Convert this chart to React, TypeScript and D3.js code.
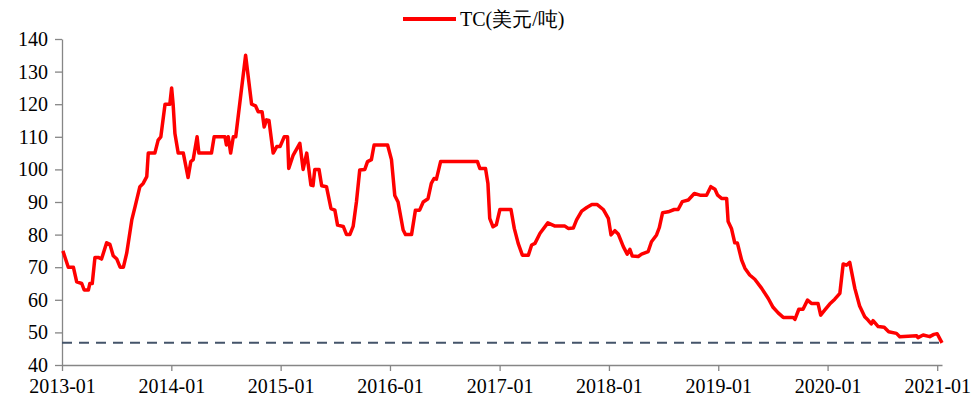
import React, { useRef, useEffect } from 'react';
import * as d3 from 'd3';

// weekly TC quotes
const dates = [
  '2013-01-04', '2013-01-22', '2013-02-08', '2013-02-19', '2013-03-08', '2013-03-16', '2013-03-30', '2013-04-04',
  '2013-04-12', '2013-04-21', '2013-05-02', '2013-05-13', '2013-05-30', '2013-06-10', '2013-06-21', '2013-07-03',
  '2013-07-14', '2013-07-25', '2013-08-05', '2013-08-22', '2013-09-02', '2013-09-18', '2013-09-29', '2013-10-11',
  '2013-10-16', '2013-11-07', '2013-11-18', '2013-11-27', '2013-12-11', '2013-12-27', '2014-01-02', '2014-01-07',
  '2014-01-13', '2014-01-24', '2014-02-10', '2014-02-26', '2014-03-07', '2014-03-15', '2014-03-28', '2014-04-03',
  '2014-05-15', '2014-05-24', '2014-06-29', '2014-07-04', '2014-07-10', '2014-07-18', '2014-07-27', '2014-08-04',
  '2014-09-06', '2014-09-26', '2014-10-09', '2014-10-18', '2014-10-31', '2014-11-07', '2014-11-15', '2014-11-23',
  '2014-12-07', '2014-12-19', '2014-12-30', '2015-01-13', '2015-01-24', '2015-01-28', '2015-02-12', '2015-03-06',
  '2015-03-17', '2015-03-29', '2015-04-12', '2015-04-19', '2015-04-25', '2015-05-09', '2015-05-18', '2015-06-03',
  '2015-06-18', '2015-07-01', '2015-07-10', '2015-07-29', '2015-08-09', '2015-08-20', '2015-08-31', '2015-09-11',
  '2015-09-22', '2015-10-09', '2015-10-18', '2015-10-31', '2015-11-09', '2015-12-24', '2016-01-06', '2016-01-17',
  '2016-01-28', '2016-02-14', '2016-02-22', '2016-03-13', '2016-03-26', '2016-04-09', '2016-04-21', '2016-05-07',
  '2016-05-18', '2016-05-27', '2016-06-04', '2016-06-18', '2016-10-19', '2016-10-27', '2016-11-15', '2016-11-23',
  '2016-11-29', '2016-12-10', '2016-12-21', '2017-01-02', '2017-02-08', '2017-02-19', '2017-03-04', '2017-03-18',
  '2017-04-07', '2017-04-18', '2017-04-29', '2017-05-16', '2017-06-11', '2017-07-05', '2017-08-07', '2017-08-18',
  '2017-09-04', '2017-09-15', '2017-10-02', '2017-10-19', '2017-11-05', '2017-11-23', '2017-12-13', '2017-12-30',
  '2018-01-08', '2018-01-21', '2018-02-01', '2018-02-18', '2018-03-03', '2018-03-12', '2018-03-20', '2018-04-09',
  '2018-04-20', '2018-05-12', '2018-05-23', '2018-06-09', '2018-06-18', '2018-06-29', '2018-07-18', '2018-08-07',
  '2018-08-20', '2018-09-03', '2018-09-23', '2018-10-13', '2018-11-01', '2018-11-23', '2018-12-07', '2018-12-21',
  '2018-12-30', '2019-01-12', '2019-01-29', '2019-02-03', '2019-02-14', '2019-02-25', '2019-03-06', '2019-03-20',
  '2019-03-31', '2019-04-16', '2019-05-03', '2019-05-26', '2019-06-17', '2019-07-03', '2019-07-20', '2019-08-06',
  '2019-09-08', '2019-09-14', '2019-09-27', '2019-10-11', '2019-10-26', '2019-11-08', '2019-11-30', '2019-12-09',
  '2019-12-23', '2020-01-08', '2020-01-25', '2020-02-11', '2020-02-22', '2020-03-04', '2020-03-15', '2020-04-01',
  '2020-04-17', '2020-05-04', '2020-05-15', '2020-05-26', '2020-06-01', '2020-06-18', '2020-07-08', '2020-07-23',
  '2020-08-18', '2020-08-29', '2020-10-24', '2020-10-29', '2020-11-15', '2020-12-07', '2020-12-21', '2021-01-01',
  '2021-01-17'
];
const tc = [
  75, 70, 70, 65.5, 65, 63, 63, 65,
  65, 73, 73, 72.5, 77.5, 77, 73.5, 72.5,
  70, 70, 74.3, 84.5, 88.6, 94.7, 95.7, 97.8,
  105, 105, 109, 110, 120, 120, 125, 120,
  111, 105, 105, 97.5, 102.4, 103, 110, 105,
  105, 110, 110, 107.5, 110, 105, 110, 110,
  135, 120, 119.5, 117.7, 117.7, 113, 115.2, 115,
  105, 107, 107, 110, 110, 100.3, 104.4, 108,
  100, 105, 95.2, 95, 100, 100, 95, 94.7,
  88, 87.5, 82.9, 82.5, 80, 80, 82.5, 90,
  99.8, 100, 102.4, 103, 107.5, 107.5, 103, 92,
  90, 81.4, 80, 80, 87.5, 87.5, 90, 91,
  95.7, 97.2, 97, 102.4, 102.4, 100.3, 100.3, 95.7,
  85, 82.4, 83, 87.7, 87.7, 81.9, 77.3, 73.7,
  73.7, 76.8, 77.3, 80.4, 83.6, 82.6, 82.6, 81.9,
  82, 84.5, 87.2, 88.3, 89.2, 89.2, 87.7, 85,
  79.9, 81.2, 80.2, 76.3, 74, 75.5, 73.4, 73.3,
  74, 74.8, 77.8, 79.9, 82.1, 86.7, 87, 87.7,
  87.7, 90.1, 90.6, 92.6, 92.1, 92.1, 94.7, 93.9,
  92.1, 91.1, 91.1, 84, 81.9, 77.5, 77.4, 72.2,
  69.7, 67.6, 66.3, 63.5, 60.4, 57.7, 56, 54.6,
  54.6, 54, 57.1, 57.1, 59.9, 58.9, 58.9, 55.3,
  56.9, 58.7, 60.2, 62, 71, 70.6, 71.5, 63.5,
  58.1, 54.8, 53.8, 52.6, 53.6, 51.8, 51.6, 50.2,
  49.7, 48.7, 49, 48.4, 49.2, 48.7, 49.4, 49.6,
  46.8
];
const yTicks = [40, 50, 60, 70, 80, 90, 100, 110, 120, 130, 140];
const xTicks = ['2013-01', '2014-01', '2015-01', '2016-01', '2017-01', '2018-01', '2019-01', '2020-01', '2021-01'];
const latest = tc[tc.length - 1];
const seriesName = 'TC(美元/吨)';

const parse = d3.timeParse('%Y-%m-%d');
const parseMonth = d3.timeParse('%Y-%m');

const App = () => {
  const svgRef = useRef(null);
  useEffect(() => {
    const W = 975, H = 400;
    const left = 62, right = 942, top = 39, bottom = 365;
    const font = "'Liberation Serif', 'DejaVu Serif'";
    const svg = d3.select(svgRef.current).attr('width', W).attr('height', H);
    svg.selectAll('*').remove();

    const data = dates.map((d, i) => ({ date: parse(d), value: tc[i] }));

    const x = d3.scaleTime()
      .domain([parse('2013-01-01'), parse('2021-01-17')])
      .range([left, right]);
    const y = d3.scaleLinear().domain([40, 140]).range([bottom, top]);

    // y axis
    const yAxis = svg.append('g')
      .attr('transform', `translate(${left},0)`)
      .call(d3.axisLeft(y).tickValues(yTicks).tickSize(7).tickPadding(7).tickSizeOuter(0));
    yAxis.attr('font-family', null);
    yAxis.select('.domain').attr('stroke', '#868686').attr('stroke-width', 1.3);
    yAxis.selectAll('.tick line').attr('stroke', '#868686').attr('stroke-width', 1.3);
    yAxis.selectAll('text')
      .style('font-family', font).style('font-size', '20px').attr('fill', '#000');

    // x axis
    const xAxis = svg.append('g')
      .attr('transform', `translate(0,${bottom})`)
      .call(d3.axisBottom(x)
        .tickValues(xTicks.map((t) => parseMonth(t)))
        .tickFormat(d3.timeFormat('%Y-%m'))
        .tickSize(6).tickPadding(8).tickSizeOuter(0));
    xAxis.attr('font-family', null);
    xAxis.select('.domain').attr('stroke', '#868686').attr('stroke-width', 1.3);
    xAxis.selectAll('.tick line').attr('stroke', '#868686').attr('stroke-width', 1.3);
    xAxis.selectAll('text')
      .style('font-family', font).style('font-size', '20px').attr('fill', '#000');

    // dashed reference line at the latest value
    svg.append('line')
      .attr('x1', left).attr('x2', right)
      .attr('y1', y(latest)).attr('y2', y(latest))
      .attr('stroke', '#44546A')
      .attr('stroke-width', 2)
      .attr('stroke-dasharray', '10,7');

    // TC line
    const line = d3.line()
      .x((d) => x(d.date))
      .y((d) => y(d.value));
    svg.append('path')
      .datum(data)
      .attr('fill', 'none')
      .attr('stroke', '#FF0000')
      .attr('stroke-width', 3.5)
      .attr('stroke-linejoin', 'round')
      .attr('d', line);

    // legend
    svg.append('line')
      .attr('x1', 403).attr('x2', 456)
      .attr('y1', 19).attr('y2', 19)
      .attr('stroke', '#FF0000').attr('stroke-width', 4);
    svg.append('text')
      .attr('x', 460).attr('y', 26)
      .style('font-family', font).style('font-size', '20px')
      .attr('fill', '#000')
      .text(seriesName);
  }, []);
  return (
    <svg ref={svgRef} style={{ position: 'absolute', left: 0, top: 0 }}></svg>
  );
};

export default App;
